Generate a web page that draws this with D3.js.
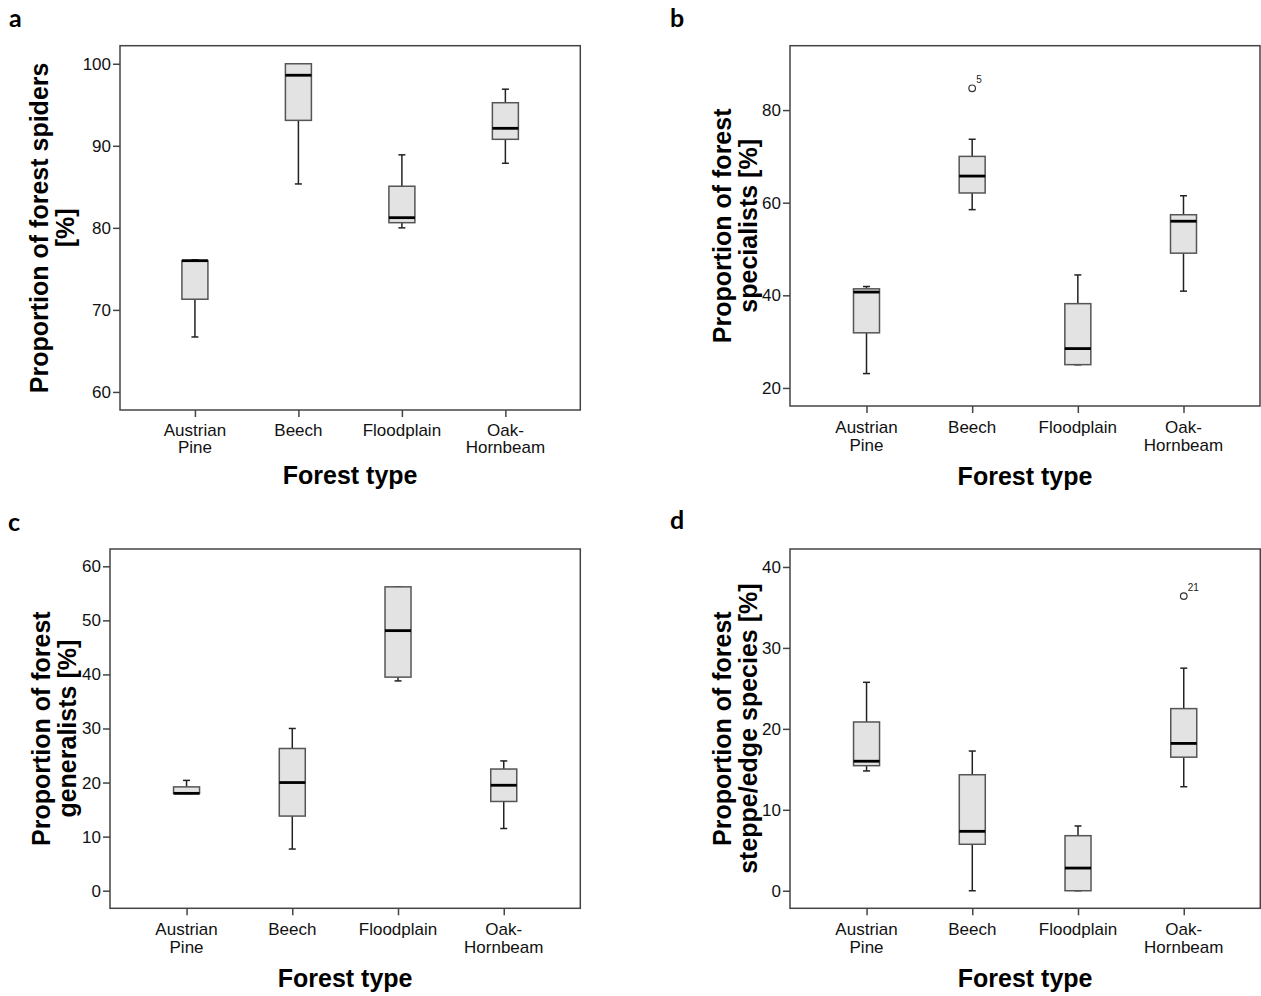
<!DOCTYPE html>
<html>
<head>
<meta charset="utf-8">
<script src="https://cdn.jsdelivr.net/npm/d3@7"></script>
<style>
  body { margin: 0; background: #fff; }
  svg { display: block; }
  .tick text { font-family: "Liberation Sans", Arial, sans-serif; font-size: 17px; fill: #111; }
</style>
</head>
<body>
<script>

const categories = ["Austrian Pine", "Beech", "Floodplain", "Oak-Hornbeam"]

// [lower whisker, Q1, median, Q3, upper whisker] for each forest type
const spidersStats = [
  [66.7, 71.3, 76.0, 76.0, 76.1],
  [85.35, 93.1, 98.6, 100, 100],
  [80.0, 80.63, 81.24, 85.07, 88.9],
  [87.87, 90.79, 92.13, 95.25, 96.9]
]
const specialistsStats = [
  [23.1, 31.9, 40.7, 41.4, 41.9],
  [58.5, 62.1, 65.75, 70.0, 73.7],
  [25.0, 25.03, 28.5, 38.2, 44.4],
  [40.9, 49.1, 56.0, 57.4, 61.5]
]
const generalistsStats = [
  [18.0, 18.0, 18.0, 19.2, 20.4],
  [7.7, 13.8, 20.0, 26.3, 30.0],
  [38.8, 39.5, 48.1, 56.2, 56.2],
  [11.5, 16.5, 19.5, 22.5, 24.0]
]
const steppeStats = [
  [14.8, 15.45, 16.0, 20.85, 25.75],
  [0, 5.74, 7.34, 14.33, 17.26],
  [0, 0, 2.8, 6.8, 8.0],
  [12.85, 16.5, 18.2, 22.5, 27.5]
]

const spidersOutliers = []
const specialistsOutliers = [{ cat: "Beech", value: 84.7, label: "5" }]
const generalistsOutliers = []
const steppeOutliers = [{ cat: "Oak-Hornbeam", value: 36.4, label: "21" }]

const spidersTicks = [60, 70, 80, 90, 100]
const specialistsTicks = [20, 40, 60, 80]
const generalistsTicks = [0, 10, 20, 30, 40, 50, 60]
const steppeTicks = [0, 10, 20, 30, 40]

const spidersTitle = ["Proportion of forest spiders", "[%]"]
const specialistsTitle = ["Proportion of forest", "specialists [%]"]
const generalistsTitle = ["Proportion of forest", "generalists [%]"]
const steppeTitle = ["Proportion of forest", "steppe/edge species [%]"]

const w = 1261
const h = 996

const panels = [
  { letter: "a", lx: 9, ly: 27, stats: spidersStats, outliers: spidersOutliers, ticks: spidersTicks, title: spidersTitle,
    x0: 120, x1: 580.3, y0: 45.7, y1: 410, domain: [57.8, 102.2], tb: [48, 74], lab: [26, 43], xt: 74 },
  { letter: "b", lx: 670, ly: 27, stats: specialistsStats, outliers: specialistsOutliers, ticks: specialistsTicks, title: specialistsTitle,
    x0: 790, x1: 1260, y0: 45.7, y1: 406, domain: [16.1, 93.9], tb: [731, 757], lab: [27, 45], xt: 79 },
  { letter: "c", lx: 8, ly: 531, stats: generalistsStats, outliers: generalistsOutliers, ticks: generalistsTicks, title: generalistsTitle,
    x0: 110, x1: 580.3, y0: 549, y1: 908.3, domain: [-3.26, 63.2], tb: [50, 76], lab: [27, 45], xt: 79 },
  { letter: "d", lx: 670, ly: 529, stats: steppeStats, outliers: steppeOutliers, ticks: steppeTicks, title: steppeTitle,
    x0: 790, x1: 1260.3, y0: 549, y1: 908.3, domain: [-2.17, 42.22], tb: [731, 757], lab: [27, 45], xt: 79 }
]

const svg = d3.select("body")
  .append("svg")
  .attr("width", w)
  .attr("height", h)

const boxW = 26
const capW = 7

panels.forEach(p => {
  const xScale = d3.scalePoint()
    .domain(categories)
    .range([p.x0, p.x1])
    .padding(0.724)
  const yScale = d3.scaleLinear()
    .domain(p.domain)
    .range([p.y1, p.y0])

  const g = svg.append("g")

  // frame
  g.append("rect")
    .attr("x", p.x0)
    .attr("y", p.y0)
    .attr("width", p.x1 - p.x0)
    .attr("height", p.y1 - p.y0)
    .attr("fill", "none")
    .attr("stroke", "#444")
    .attr("stroke-width", 1.5)

  g.append("g")
    .attr("transform", `translate(${p.x0}, 0)`)
    .call(d3.axisLeft(yScale).tickValues(p.ticks).tickSize(7).tickPadding(2).tickFormat(d3.format("d")))
    .call(a => a.select(".domain").remove())
    .call(a => a.selectAll(".tick line").attr("stroke", "#444").attr("stroke-width", 1.5))

  g.append("g")
    .attr("transform", `translate(0, ${p.y1})`)
    .call(d3.axisBottom(xScale).tickSize(7).tickFormat(""))
    .call(a => a.select(".domain").remove())
    .call(a => a.selectAll(".tick line").attr("stroke", "#444").attr("stroke-width", 1.5))
    .call(a => a.selectAll(".tick text").remove())

  // category labels, split on the space / hyphen like the original
  const labelLines = (d) => d === "Austrian Pine" ? ["Austrian", "Pine"] : d === "Oak-Hornbeam" ? ["Oak-", "Hornbeam"] : [d]
  categories.forEach(c => {
    labelLines(c).forEach((line, i) => {
      g.append("text")
        .attr("x", xScale(c))
        .attr("y", p.y1 + p.lab[i])
        .attr("text-anchor", "middle")
        .style("font-family", '"Liberation Sans", Arial, sans-serif')
        .style("font-size", "17px")
        .attr("fill", "#111")
        .text(line)
    })
  })

  g.append("text")
    .attr("x", (p.x0 + p.x1) / 2)
    .attr("y", p.y1 + p.xt)
    .attr("text-anchor", "middle")
    .style("font-family", '"Liberation Sans", Arial, sans-serif')
    .style("font-size", "25px")
    .style("font-weight", "bold")
    .text("Forest type")

  p.title.forEach((line, i) => {
    g.append("text")
      .attr("transform", `translate(${p.tb[i]}, ${(p.y0 + p.y1) / 2}) rotate(-90)`)
      .attr("text-anchor", "middle")
      .style("font-family", '"Liberation Sans", Arial, sans-serif')
      .style("font-size", "25px")
      .style("font-weight", "bold")
      .text(line)
  })

  g.append("text")
    .attr("x", p.lx)
    .attr("y", p.ly)
    .style("font-family", "Lato, 'Open Sans', sans-serif")
    .style("font-size", "25px")
    .style("font-weight", "bold")
    .text(p.letter)

  const boxes = g.selectAll(".box")
    .data(p.stats)
    .enter()
    .append("g")
    .attr("class", "box")
    .attr("transform", (d, i) => `translate(${xScale(categories[i])}, 0)`)

  // whiskers
  boxes.append("line")
    .attr("x1", 0).attr("x2", 0)
    .attr("y1", d => yScale(d[0]))
    .attr("y2", d => yScale(d[1]))
    .attr("stroke", "#222").attr("stroke-width", 1.5)
  boxes.append("line")
    .attr("x1", 0).attr("x2", 0)
    .attr("y1", d => yScale(d[3]))
    .attr("y2", d => yScale(d[4]))
    .attr("stroke", "#222").attr("stroke-width", 1.5)
  boxes.append("line")
    .attr("x1", -capW / 2).attr("x2", capW / 2)
    .attr("y1", d => yScale(d[0]))
    .attr("y2", d => yScale(d[0]))
    .attr("stroke", "#222").attr("stroke-width", 1.5)
  boxes.append("line")
    .attr("x1", -capW / 2).attr("x2", capW / 2)
    .attr("y1", d => yScale(d[4]))
    .attr("y2", d => yScale(d[4]))
    .attr("stroke", "#222").attr("stroke-width", 1.5)

  boxes.append("rect")
    .attr("x", -boxW / 2)
    .attr("width", boxW)
    .attr("y", d => yScale(d[3]))
    .attr("height", d => Math.max(yScale(d[1]) - yScale(d[3]), 0.5))
    .attr("fill", "#e3e3e3")
    .attr("stroke", "#555")
    .attr("stroke-width", 1.5)

  boxes.append("line")
    .attr("x1", -boxW / 2).attr("x2", boxW / 2)
    .attr("y1", d => yScale(d[2]))
    .attr("y2", d => yScale(d[2]))
    .attr("stroke", "#000").attr("stroke-width", 2.8)

  p.outliers.forEach(o => {
    g.append("circle")
      .attr("cx", xScale(o.cat))
      .attr("cy", yScale(o.value))
      .attr("r", 3.3)
      .attr("fill", "none")
      .attr("stroke", "#333")
      .attr("stroke-width", 1.2)
    g.append("text")
      .attr("x", xScale(o.cat) + 4)
      .attr("y", yScale(o.value) - 5)
      .style("font-family", '"Liberation Sans", Arial, sans-serif')
      .style("font-size", "10px")
      .attr("fill", "#222")
      .text(o.label)
  })
})

</script>
</body>
</html>
